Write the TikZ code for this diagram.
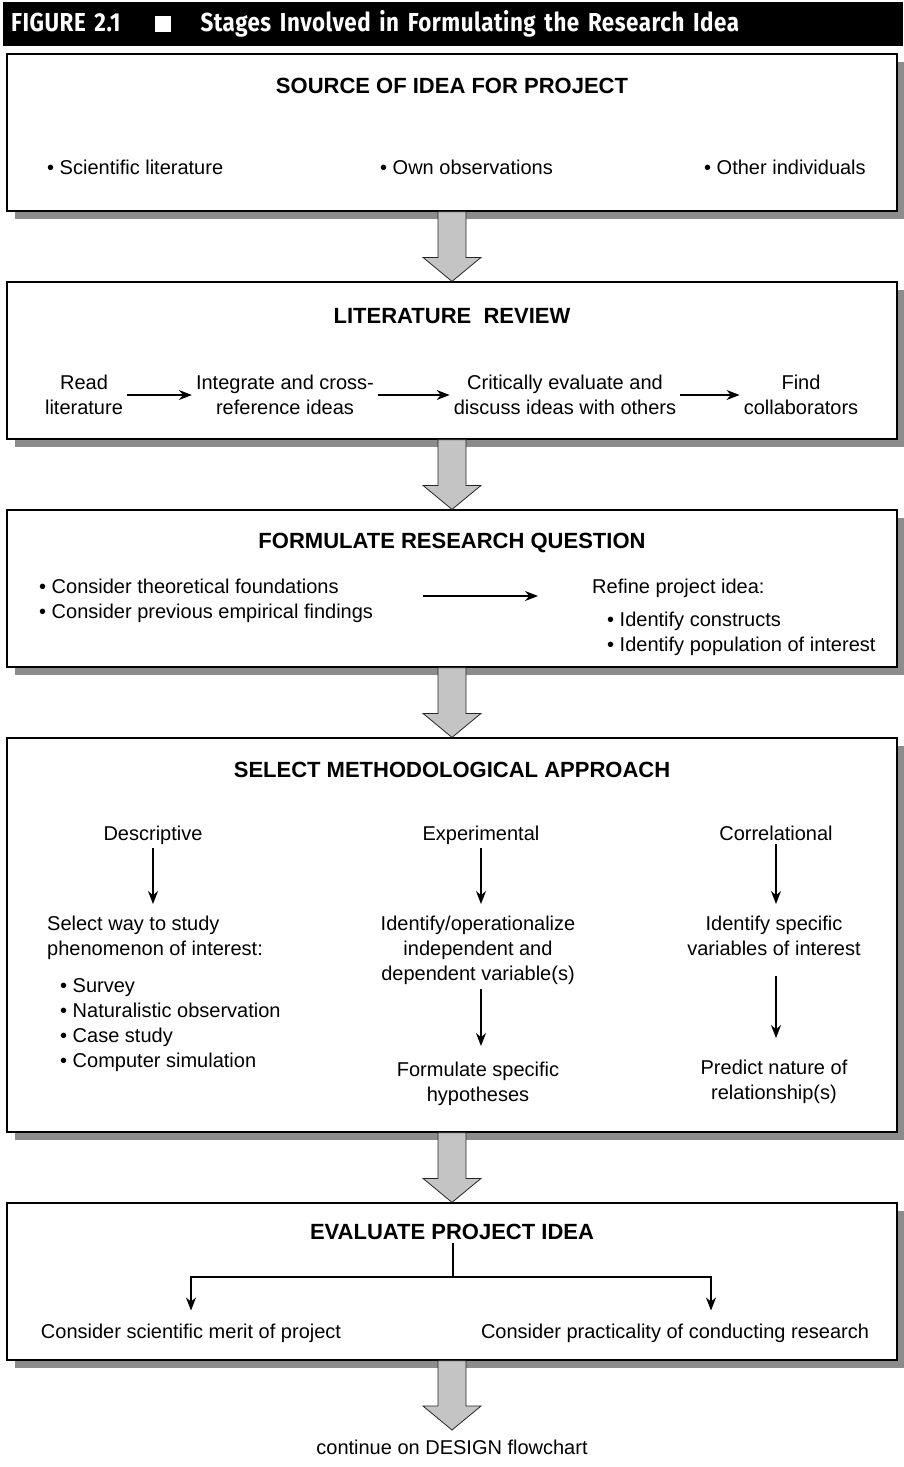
\documentclass[tikz,border=0pt]{standalone}
\usepackage{fontspec}
\setmainfont{Liberation Sans}
\newfontfamily\headfont[FakeStretch=0.86, LetterSpace=2]{Fira Sans}
\usetikzlibrary{arrows.meta,positioning,calc,shadows}

% wide grey arrow from one stage box down to the next
\newcommand\bigarrow[2]{%
  \draw[bigarr] let \p1=(#1.south), \p2=(#2.north) in
    (\x1-14pt,\y1) -- (\x1-14pt,\y2+24pt) -- (\x1-29pt,\y2+24pt) -- (\x1,\y2)
    -- (\x1+29pt,\y2+24pt) -- (\x1+14pt,\y2+24pt) -- (\x1+14pt,\y1) -- cycle;}

\begin{document}
\begin{tikzpicture}[x=1pt,y=-1pt,
  every node/.style={font=\fontsize{20}{25}\selectfont, inner sep=4pt},
  stage/.style={draw, line width=1.2pt, fill=white, minimum width=890pt,
    drop shadow={shadow xshift=7.5pt, shadow yshift=-7.5pt, fill=black!45, opacity=1}},
  ttl/.style={font=\fontsize{22}{26}\selectfont\bfseries},
  txt/.style={align=center},
  lst/.style={align=left},
  arr/.style={-{Stealth[length=13pt,width=10pt]}, line width=1.1pt},
  bigarr/.style={draw=black!85, line width=0.8pt, fill=black!23}
]
\useasboundingbox (0,0) rectangle (903,1467);

\node[fill=black, text=white, anchor=north west, text width=884pt, align=left,
  inner xsep=8pt, minimum height=44pt,
  font=\headfont\fontsize{26}{30}\selectfont\bfseries] (head) at (3,2)
  {FIGURE 2.1\hspace{34pt}\rule{16pt}{16pt}\hspace{30pt}Stages Involved in Formulating the Research Idea};

% stage boxes
\node[stage, minimum height=157pt] (src) at (452,132.5) {};
\node[stage, minimum height=157pt] (rev) at (452,360.5) {};
\node[stage, minimum height=157pt] (que) at (452,588.5) {};
\node[stage, minimum height=394pt] (meth) at (452,935) {};
\node[stage, minimum height=157pt] (eval) at (452,1281.5) {};
\node[anchor=north, inner ysep=10pt] (next) at (452,1430) {continue on DESIGN flowchart};

\bigarrow{src}{rev}
\bigarrow{rev}{que}
\bigarrow{que}{meth}
\bigarrow{meth}{eval}
\bigarrow{eval}{next}

% source of idea
\node[ttl, anchor=base] (srcT) at (452,93) {SOURCE OF IDEA FOR PROJECT};
\node[anchor=base west] (lit) at (43,174) {• Scientific literature};
\node[anchor=base west] (own) at (376,174) {• Own observations};
\node[anchor=base west] (oth) at (700,174) {• Other individuals};

% literature review
\node[ttl, anchor=base] (revT) at (452,323) {LITERATURE\ \ REVIEW};
\node[txt] (read) at (84,395) {Read\\literature};
\node[txt] (integ) at (285,395) {Integrate and cross-\\reference ideas};
\node[txt] (crit) at (565,395) {Critically evaluate and\\discuss ideas with others};
\node[txt] (find) at (801,395) {Find\\collaborators};
\draw[arr] (read) -- (integ);
\draw[arr] (integ) -- (crit);
\draw[arr] (crit) -- (find);

% research question
\node[ttl, anchor=base] (queT) at (452,548) {FORMULATE RESEARCH QUESTION};
\node[lst, anchor=north west] (qleft) at (35,575)
  {• Consider theoretical foundations\\• Consider previous empirical findings};
\node[lst, anchor=north west] (qright) at (588,575)
  {Refine project idea:\\[8pt]\hspace*{15pt}• Identify constructs\\\hspace*{15pt}• Identify population of interest};
\draw[arr, shorten <=46pt, shorten >=50pt] ([yshift=5pt]qleft.east) -- ([yshift=5pt]qleft.east -| qright.west);

% methodological approach
\node[ttl, anchor=base] (methT) at (452,777) {SELECT METHODOLOGICAL APPROACH};
\node[anchor=base] (desc) at (153,840) {Descriptive};
\node[anchor=base] (expm) at (481,840) {Experimental};
\node[anchor=base] (corr) at (776,840) {Correlational};
\node[lst, anchor=north west] (sel) at (43,912) {Select way to study\\phenomenon of interest:};
\node[lst, anchor=north west] (dlist) at (56,974)
  {• Survey\\• Naturalistic observation\\• Case study\\• Computer simulation};
\node[txt, anchor=north] (ops) at (478,912) {Identify/operationalize\\independent and\\dependent variable(s)};
\node[txt, anchor=north] (hyp) at (478,1058) {Formulate specific\\hypotheses};
\node[txt, anchor=north] (varb) at (774,912) {Identify specific\\variables of interest};
\node[txt, anchor=north] (pred) at (774,1056) {Predict nature of\\relationship(s)};
\draw[arr, shorten >=8pt] (desc) -- (desc |- sel.north);
\draw[arr, shorten >=8pt] (expm) -- (expm |- ops.north);
\draw[arr, shorten >=8pt] (corr) -- (corr |- varb.north);
\draw[arr, shorten >=12pt] (ops.south -| expm) -- (hyp.north -| expm);
\draw[arr, shorten <=16pt, shorten >=18pt] (varb.south -| corr) -- (pred.north -| corr);

% evaluate
\node[ttl, anchor=base] (evalT) at (452,1239) {EVALUATE PROJECT IDEA};
\node (merit) at (191,1333) {Consider scientific merit of project};
\node (pract) at (675,1333) {Consider practicality of conducting research};
\coordinate (fork) at (453,1277);
\draw[line width=1.1pt] (evalT.south -| fork) -- (fork);
\draw[arr, shorten >=9pt] (fork) -| (merit.north);
\draw[arr, shorten >=9pt] (fork) -| ([xshift=36pt]pract.north);
\end{tikzpicture}
\end{document}
